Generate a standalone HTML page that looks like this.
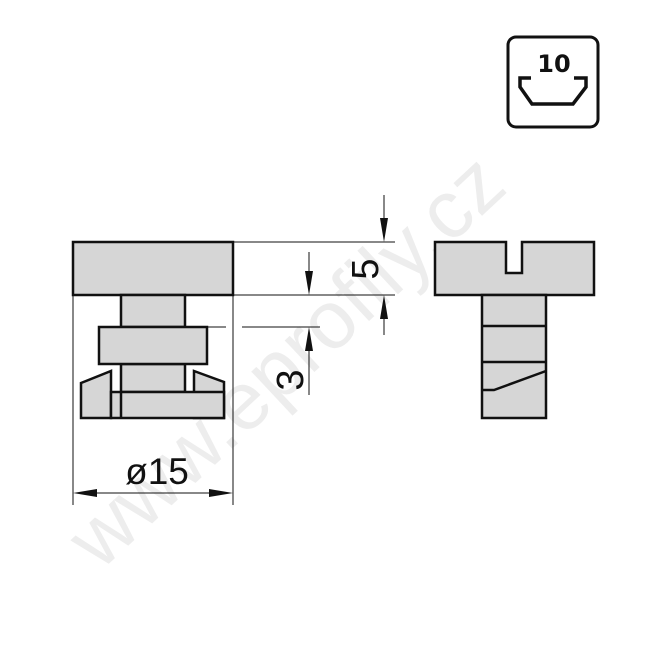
<!DOCTYPE html>
<html><head><meta charset="utf-8"><style>html,body{margin:0;padding:0;background:#fff}</style></head><body>
<svg width="645" height="645" viewBox="0 0 645 645" xmlns="http://www.w3.org/2000/svg">
<text x="0" y="0" transform="translate(100,572) rotate(-43)" font-family="Liberation Sans, sans-serif" font-size="82" fill="#ededed" textLength="560" lengthAdjust="spacing">www.eprofily.cz</text>
<g stroke="#111" stroke-width="1" fill="none">
<line x1="73" y1="295" x2="73" y2="505"/><line x1="233" y1="295" x2="233" y2="505"/>
<line x1="233" y1="242" x2="395" y2="242"/><line x1="233" y1="295" x2="395" y2="295"/>
<line x1="207" y1="327" x2="226" y2="327"/><line x1="242" y1="327" x2="320" y2="327"/>
<line x1="85" y1="493" x2="221" y2="493"/>
<line x1="309" y1="252" x2="309" y2="283"/><line x1="309" y1="339" x2="309" y2="395"/>
<line x1="384" y1="195" x2="384" y2="230"/><line x1="384" y1="307" x2="384" y2="335"/>
</g>
<g fill="#111">
<polygon points="73,493 97,489 97,497"/><polygon points="233,493 209,489 209,497"/>
<polygon points="309,295 305,271 313,271"/><polygon points="309,327 305,351 313,351"/>
<polygon points="384,242 380,218 388,218"/><polygon points="384,295 380,319 388,319"/>
</g>
<g font-family="Liberation Sans, sans-serif" fill="#111">
<text x="157" y="484" font-size="37" text-anchor="middle">ø15</text>
<text transform="translate(303,380) rotate(-90)" font-size="38" text-anchor="middle">3</text>
<text transform="translate(378,269) rotate(-90)" font-size="38" text-anchor="middle">5</text>
</g>
<g stroke="#111" stroke-width="2.5" fill="#d6d6d6" stroke-linejoin="miter">
<rect x="73" y="242" width="160" height="53"/>
<rect x="121" y="295" width="64" height="32"/>
<rect x="121" y="364" width="64" height="28"/>
<rect x="99" y="327" width="108" height="37"/>
<polygon points="81,383 111,371 111,418 81,418"/>
<polygon points="194,371 224,382 224,418 194,418"/>
<rect x="111" y="392" width="113" height="26"/>
<line x1="121" y1="392" x2="121" y2="418"/>
<polygon points="435,242 506,242 506,273 522,273 522,242 594,242 594,295 435,295"/>
<rect x="482" y="295" width="64" height="123"/>
<line x1="482" y1="326" x2="546" y2="326"/>
<line x1="482" y1="362" x2="546" y2="362"/>
<polyline points="482,390 494,390 546,371" fill="none"/>
</g>
<rect x="508" y="37" width="90" height="90" rx="8" fill="none" stroke="#111" stroke-width="3"/>
<text x="554" y="72" font-family="DejaVu Sans, sans-serif" font-weight="bold" font-size="24" text-anchor="middle" fill="#111">10</text>
<polyline points="531,78 520,78 520,87 532,104 573,104 586,87 586,78 574,78" fill="none" stroke="#111" stroke-width="3.5"/>
</svg>
</body></html>
